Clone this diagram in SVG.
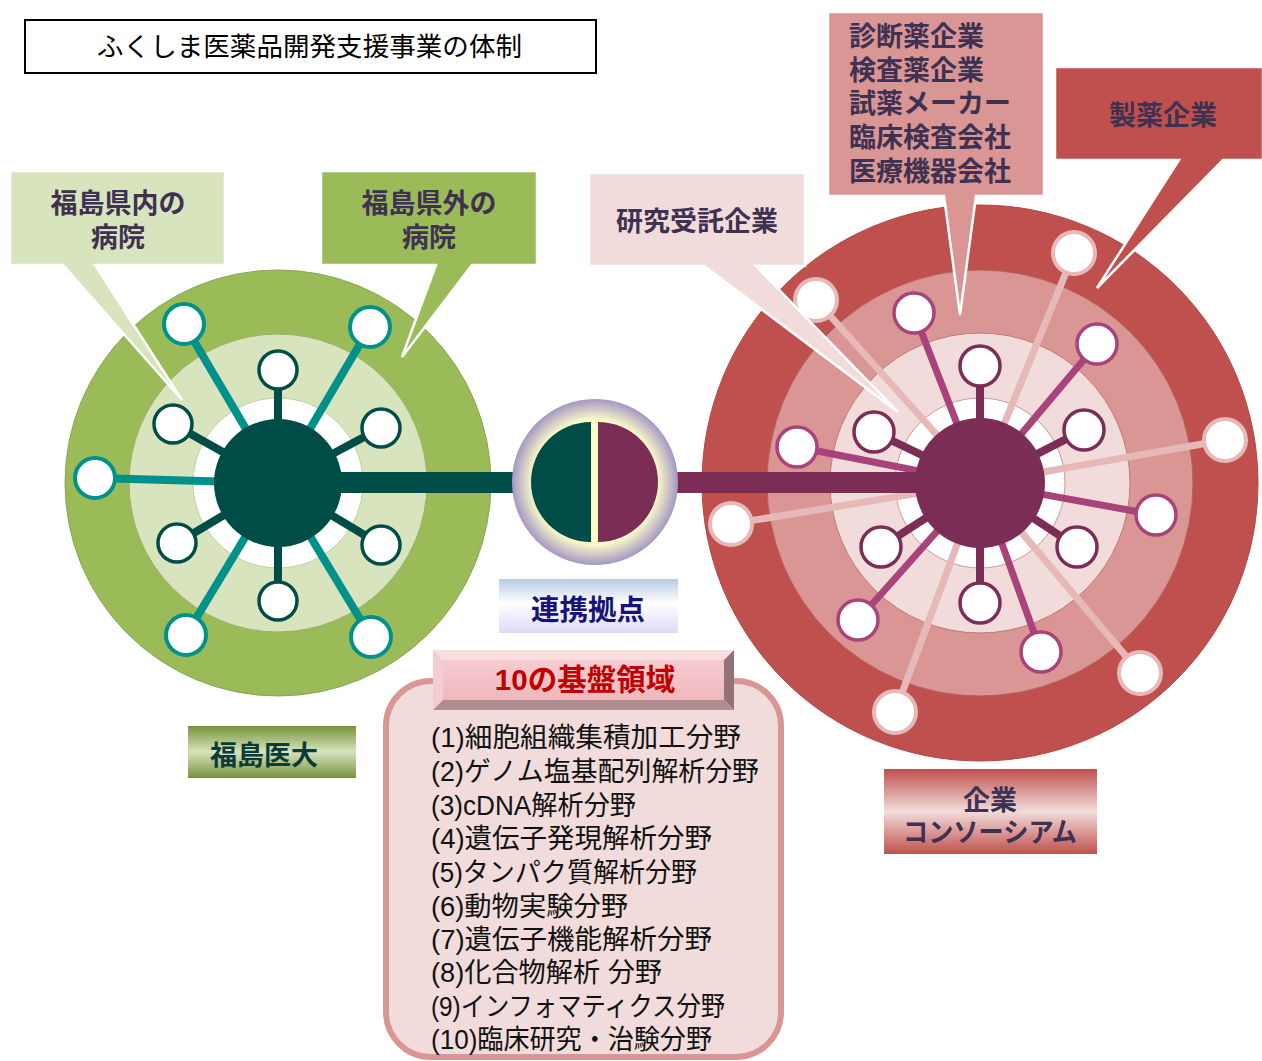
<svg xmlns="http://www.w3.org/2000/svg" width="1262" height="1061" viewBox="0 0 1262 1061">
<defs>
<style>
.jp{font-family:"Liberation Sans","Noto Sans CJK JP",sans-serif;}
.b{font-weight:bold;}
.ci{fill:#3F3151;font-weight:bold;font-size:27px;font-family:"Liberation Sans","Noto Sans CJK JP",sans-serif;}
.list{font-family:"Liberation Sans","Noto Sans CJK JP",sans-serif;font-size:27px;fill:#111;}
.nd{fill:#fff;}
.gInner{stroke:#004D47;stroke-width:3.5;}
.gOuter{stroke:#00928A;stroke-width:4;}
.rInner{stroke:#7B2D55;stroke-width:3.5;}
.rMid{stroke:#A9437C;stroke-width:3.5;}
.rOuter{stroke:#E6B9B8;stroke-width:4;}
.co{stroke:#fff;stroke-width:2.5;stroke-linejoin:miter;}
</style>
<radialGradient id="connGrad" cx="0.5" cy="0.5" r="0.5">
<stop offset="0" stop-color="#FFFFC8"/>
<stop offset="0.74" stop-color="#FFFFC8"/>
<stop offset="1" stop-color="#A497C4"/>
</radialGradient>
<linearGradient id="blueGrad" x1="0" y1="0" x2="0" y2="1">
<stop offset="0" stop-color="#B7CBE3"/>
<stop offset="0.45" stop-color="#FFFFFF"/>
<stop offset="1" stop-color="#DCDAF7"/>
</linearGradient>
<linearGradient id="greenGrad" x1="0" y1="0" x2="0" y2="1">
<stop offset="0" stop-color="#76923C"/>
<stop offset="0.5" stop-color="#D7E4BD"/>
<stop offset="1" stop-color="#76923C"/>
</linearGradient>
<linearGradient id="redGrad" x1="0" y1="0" x2="0" y2="1">
<stop offset="0" stop-color="#C0504D"/>
<stop offset="0.5" stop-color="#F2DCDB"/>
<stop offset="1" stop-color="#C0504D"/>
</linearGradient>
<linearGradient id="faceGrad" x1="0" y1="0" x2="0" y2="1">
<stop offset="0" stop-color="#F6CCD0"/>
<stop offset="1" stop-color="#EFB8BD"/>
</linearGradient>
</defs>

<rect x="0" y="0" width="1262" height="1061" fill="#FFFFFF"/>

<g id="title">
<rect x="25" y="20" width="571" height="53" fill="#fff" stroke="#000" stroke-width="2"/>
<text x="97" y="56" class="jp" font-size="26.5" fill="#000" textLength="425" lengthAdjust="spacing">ふくしま医薬品開発支援事業の体制</text>
</g>

<g id="fukushima-circle">
<circle cx="278" cy="483" r="213" fill="#9BBB59" stroke="#8AA651" stroke-width="1"/>
<circle cx="278" cy="483" r="149" fill="#D7E4BD" stroke="#9DB06A" stroke-width="1"/>
<circle cx="278" cy="483" r="85" fill="#FFFFFF" stroke="#C3CF9E" stroke-width="1"/>
</g>

<g id="consortium-circle">
<circle cx="980" cy="483" r="278" fill="#C0504D" stroke="#B04845" stroke-width="1"/>
<circle cx="980" cy="483" r="213" fill="#D99694" stroke="#B65F5C" stroke-width="1"/>
<circle cx="980" cy="483" r="150" fill="#F2DCDB" stroke="#C07A78" stroke-width="1"/>
<circle cx="980" cy="483" r="85" fill="#FFFFFF" stroke="#C99A98" stroke-width="1"/>
</g>

<g id="connectors" stroke-linecap="butt">
<g stroke="#00928A" stroke-width="8">
<line x1="278" y1="483" x2="184" y2="324"/>
<line x1="278" y1="483" x2="370" y2="327"/>
<line x1="278" y1="483" x2="95" y2="478"/>
<line x1="278" y1="483" x2="186" y2="635"/>
<line x1="278" y1="483" x2="371" y2="637"/>
</g>
<g stroke="#004D47" stroke-width="8">
<line x1="278" y1="483" x2="278" y2="370"/>
<line x1="278" y1="483" x2="173" y2="424"/>
<line x1="278" y1="483" x2="381" y2="428"/>
<line x1="278" y1="483" x2="177" y2="543"/>
<line x1="278" y1="483" x2="381" y2="545"/>
<line x1="278" y1="483" x2="278" y2="601"/>
</g>
<g stroke="#E6B9B8" stroke-width="7">
<line x1="980" y1="483" x2="1074" y2="253"/>
<line x1="980" y1="483" x2="816" y2="300"/>
<line x1="980" y1="483" x2="1225" y2="440"/>
<line x1="980" y1="483" x2="731" y2="524"/>
<line x1="980" y1="483" x2="1140" y2="673"/>
<line x1="980" y1="483" x2="895" y2="712"/>
</g>
<g stroke="#A9437C" stroke-width="7">
<line x1="980" y1="483" x2="914" y2="313"/>
<line x1="980" y1="483" x2="1097" y2="344"/>
<line x1="980" y1="483" x2="797" y2="447"/>
<line x1="980" y1="483" x2="1156" y2="515"/>
<line x1="980" y1="483" x2="858" y2="620"/>
<line x1="980" y1="483" x2="1041" y2="652"/>
</g>
<g stroke="#7B2D55" stroke-width="8">
<line x1="980" y1="483" x2="980" y2="366"/>
<line x1="980" y1="483" x2="874" y2="432"/>
<line x1="980" y1="483" x2="1084" y2="430"/>
<line x1="980" y1="483" x2="881" y2="547"/>
<line x1="980" y1="483" x2="1077" y2="547"/>
<line x1="980" y1="483" x2="980" y2="603"/>
</g>
<rect x="278" y="472" width="270" height="21" fill="#004D47"/>
<rect x="645" y="472" width="335" height="21" fill="#7B2D55"/>
</g>

<g id="hub-fukushima">
<circle cx="278" cy="483" r="64" fill="#004D47"/>
</g>
<g id="hub-consortium">
<circle cx="980" cy="483" r="65" fill="#7B2D55"/>
</g>

<g id="link-node">
<circle cx="595" cy="482" r="83" fill="url(#connGrad)"/>
<path d="M591,422 A60,60 0 0 0 591,542 Z" fill="#004D47"/>
<path d="M598,422 A60,60 0 0 1 598,542 Z" fill="#7B2D55"/>
</g>

<g id="nodes-fukushima">
<circle class="nd gInner" cx="278" cy="370" r="19"/>
<circle class="nd gInner" cx="173" cy="424" r="19"/>
<circle class="nd gInner" cx="381" cy="428" r="19"/>
<circle class="nd gInner" cx="177" cy="543" r="19"/>
<circle class="nd gInner" cx="381" cy="545" r="19"/>
<circle class="nd gInner" cx="278" cy="601" r="19"/>
<circle class="nd gOuter" cx="184" cy="324" r="20"/>
<circle class="nd gOuter" cx="370" cy="327" r="20"/>
<circle class="nd gOuter" cx="95" cy="478" r="20"/>
<circle class="nd gOuter" cx="186" cy="635" r="20"/>
<circle class="nd gOuter" cx="371" cy="637" r="20"/>
</g>

<g id="nodes-consortium">
<circle class="nd rInner" cx="980" cy="366" r="20"/>
<circle class="nd rInner" cx="874" cy="432" r="20"/>
<circle class="nd rInner" cx="1084" cy="430" r="20"/>
<circle class="nd rInner" cx="881" cy="547" r="20"/>
<circle class="nd rInner" cx="1077" cy="547" r="20"/>
<circle class="nd rInner" cx="980" cy="603" r="20"/>
<circle class="nd rMid" cx="914" cy="313" r="20"/>
<circle class="nd rMid" cx="1097" cy="344" r="20"/>
<circle class="nd rMid" cx="797" cy="447" r="20"/>
<circle class="nd rMid" cx="1156" cy="515" r="20"/>
<circle class="nd rMid" cx="858" cy="620" r="20"/>
<circle class="nd rMid" cx="1041" cy="652" r="20"/>
<circle class="nd rOuter" cx="1074" cy="253" r="21"/>
<circle class="nd rOuter" cx="816" cy="300" r="21"/>
<circle class="nd rOuter" cx="1225" cy="440" r="21"/>
<circle class="nd rOuter" cx="731" cy="524" r="21"/>
<circle class="nd rOuter" cx="1140" cy="673" r="21"/>
<circle class="nd rOuter" cx="895" cy="712" r="21"/>
</g>

<g id="callout-in-pref">
<path class="co" d="M10,171 H225 V265 H95 L182,400 L63,265 H10 Z" fill="#D7E4BD"/>
<text class="ci" x="118" y="213" text-anchor="middle">福島県内の</text>
<text class="ci" x="118" y="247" text-anchor="middle">病院</text>
</g>

<g id="callout-out-pref">
<path class="co" d="M321,171 H537 V265 H472 L402,357 L436,265 H321 Z" fill="#9BBB59"/>
<text class="ci" x="429" y="213" text-anchor="middle">福島県外の</text>
<text class="ci" x="429" y="247" text-anchor="middle">病院</text>
</g>

<g id="callout-cro">
<path class="co" d="M589,173 H805 V266 H756 L898,412 L704,266 H589 Z" fill="#F2DCDB"/>
<text class="ci" x="697" y="231" text-anchor="middle">研究受託企業</text>
</g>

<g id="callout-diag">
<path class="co" d="M828,12 H1044 V196 H976 L960,315 L944,196 H828 Z" fill="#D99694"/>
<text class="ci" x="849" y="46">診断薬企業</text>
<text class="ci" x="849" y="80">検査薬企業</text>
<text class="ci" x="849" y="113">試薬メーカー</text>
<text class="ci" x="849" y="147">臨床検査会社</text>
<text class="ci" x="849" y="181">医療機器会社</text>
</g>

<g id="callout-pharma">
<path class="co" d="M1055,67 H1263 V160 H1223 L1097,288 L1179,160 H1055 Z" fill="#C0504D"/>
<text class="ci" x="1163" y="125" text-anchor="middle">製薬企業</text>
</g>

<g id="label-link">
<rect x="499" y="579" width="179" height="54" fill="url(#blueGrad)"/>
<text x="588" y="620" text-anchor="middle" class="jp b" font-size="28.5" fill="#17137A">連携拠点</text>
</g>

<g id="label-fmu">
<rect x="188" y="726" width="168" height="52" fill="url(#greenGrad)"/>
<text x="264" y="765" text-anchor="middle" class="jp b" font-size="27" fill="#0D3B36">福島医大</text>
</g>

<g id="label-consortium">
<rect x="884" y="769" width="213" height="85" fill="url(#redGrad)"/>
<text class="ci" x="990" y="810" text-anchor="middle">企業</text>
<text class="ci" x="903" y="842" font-size="25.5" textLength="174" lengthAdjust="spacingAndGlyphs">コンソーシアム</text>
</g>

<g id="fields">
<rect x="386" y="681" width="395" height="376" rx="45" ry="45" fill="#F2DCDB" stroke="#D99694" stroke-width="6"/>
<text class="list" x="431" y="747" textLength="310" lengthAdjust="spacingAndGlyphs">(1)細胞組織集積加工分野</text>
<text class="list" x="431" y="781" textLength="328" lengthAdjust="spacingAndGlyphs">(2)ゲノム塩基配列解析分野</text>
<text class="list" x="431" y="815" textLength="205" lengthAdjust="spacingAndGlyphs">(3)cDNA解析分野</text>
<text class="list" x="431" y="848" textLength="281" lengthAdjust="spacingAndGlyphs">(4)遺伝子発現解析分野</text>
<text class="list" x="431" y="882" textLength="266" lengthAdjust="spacingAndGlyphs">(5)タンパク質解析分野</text>
<text class="list" x="431" y="916" textLength="197" lengthAdjust="spacingAndGlyphs">(6)動物実験分野</text>
<text class="list" x="431" y="949" textLength="281" lengthAdjust="spacingAndGlyphs">(7)遺伝子機能解析分野</text>
<text class="list" x="431" y="982" textLength="231" lengthAdjust="spacingAndGlyphs">(8)化合物解析 分野</text>
<text class="list" x="431" y="1016" textLength="294" lengthAdjust="spacingAndGlyphs">(9)インフォマティクス分野</text>
<text class="list" x="431" y="1049" textLength="281" lengthAdjust="spacingAndGlyphs">(10)臨床研究・治験分野</text>
</g>

<g id="fields-header">
<polygon points="433,650 734,650 724,660 443,660" fill="#F9DDE0"/>
<polygon points="433,650 443,660 443,700 433,710" fill="#F3CDD1"/>
<polygon points="734,650 734,710 724,700 724,660" fill="#957276"/>
<polygon points="433,710 734,710 724,700 443,700" fill="#B08C90"/>
<rect x="443" y="660" width="281" height="40" fill="url(#faceGrad)"/>
<text x="585" y="690" text-anchor="middle" class="jp b" font-size="29.5" fill="#C00000">10の基盤領域</text>
</g>
</svg>
